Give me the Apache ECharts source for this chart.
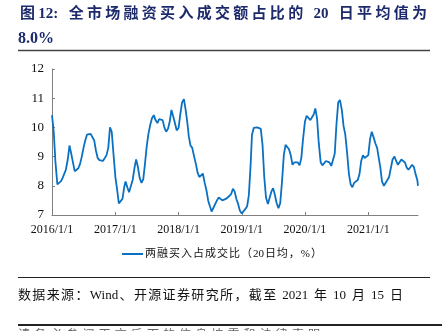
<!DOCTYPE html>
<html>
<head>
<meta charset="utf-8">
<script src="https://cdn.jsdelivr.net/npm/echarts@6/dist/echarts.min.js"></script>
<style>
  html, body { margin: 0; padding: 0; background: #fff; }
  #chart { width: 442px; height: 331px; }
</style>
</head>
<body>
<div id="chart"></div>
<script>
// 两融买入占成交比（20日均，%），samples on the 1st, 11th and 21st of each month
const v2016 = [10.42, 9.85, 8.8, 8.05, 8.1, 8.15, 8.25, 8.4, 8.55, 8.9, 9.38, 9.1,
               8.8, 8.5, 8.45, 8.6, 8.75, 9.0, 9.3, 9.55, 9.75, 9.7, 9.78, 9.75,
               9.55, 9.2, 8.95, 8.88, 8.9, 8.85, 8.95, 9.05, 9.3, 10.0, 9.85, 9.1];
const v2017 = [8.3, 7.88, 7.4, 7.36, 7.55, 7.95, 8.15, 7.95, 7.78, 7.8, 8.2, 8.6,
               8.9, 8.65, 8.28, 8.1, 8.22, 8.75, 9.35, 9.78, 10.08, 10.32, 10.42, 10.25,
               10.15, 10.28, 10.22, 10.25, 10.0, 9.85, 9.95, 10.2, 10.6, 10.55, 10.15, 9.9];
const v2018 = [9.98, 10.45, 10.85, 10.97, 10.6, 10.15, 9.7, 9.38, 9.3, 9.0, 8.75, 8.45,
               8.3, 8.36, 8.42, 8.1, 7.85, 7.5, 7.3, 7.12, 7.15, 7.38, 7.5, 7.6,
               7.57, 7.5, 7.47, 7.55, 7.6, 7.65, 7.72, 7.9, 7.8, 7.55, 7.38, 7.15];
const v2019 = [7.05, 7.05, 7.2, 7.3, 7.68, 8.7, 9.74, 9.98, 10.03, 10.0, 10.05, 9.95,
               9.4, 8.3, 7.6, 7.38, 7.4, 7.8, 7.92, 7.7, 7.42, 7.23, 7.4, 8.1,
               9.05, 9.4, 9.35, 9.25, 9.05, 8.72, 8.8, 8.75, 8.8, 8.7, 8.95, 9.6];
const v2020 = [10.2, 10.4, 10.37, 10.25, 10.35, 10.45, 10.65, 10.3, 9.45, 8.8, 8.7, 8.75,
               8.85, 8.9, 8.8, 8.68, 8.68, 9.1, 10.1, 10.85, 10.94, 10.6, 10.05, 9.75,
               9.1, 8.4, 8.05, 7.95, 8.1, 8.15, 8.2, 8.4, 8.85, 9.05, 8.95, 9.0];
const v2021 = [9.05, 9.6, 9.85, 9.65, 9.45, 9.3, 9.0, 8.65, 8.15, 8.0, 8.05, 8.2,
               8.3, 8.6, 8.9, 9.0, 8.85, 8.72, 8.75, 8.9, 8.95, 8.8, 8.62, 8.55,
               8.6, 8.72, 8.65, 8.4, 8.2];
const lastDate = '2021-10-15';
const lastValue = 8.0;

const years = [2016, 2017, 2018, 2019, 2020, 2021];
const yearValues = [v2016, v2017, v2018, v2019, v2020, v2021];
const sampleDays = [1, 11, 21];

const seriesName = '两融买入占成交比（20日均，%）';
const titleLine1 = '图12: 全市场融资买入成交额占比的 20 日平均值为';
const titleLine2 = '8.0%';
const sourceText = '数据来源：Wind、开源证券研究所，截至 2021 年 10 月 15 日';
const footerText = '请务必参阅正文后面的信息披露和法律声明';

const yTicks = { min: 7, max: 12, interval: 1 };
const xRange = { min: '2016-01-01', max: lastDate };

function pad(n) { return n < 10 ? '0' + n : '' + n; }

const points = [];
years.forEach((y, yi) => {
  yearValues[yi].forEach((v, i) => {
    const m = Math.floor(i / 3) + 1;
    const d = sampleDays[i % 3];
    points.push([y + '-' + pad(m) + '-' + pad(d), v]);
  });
});
points.push([lastDate, lastValue]);

// text laid out token by token, spread evenly across a given width
const measureCtx = document.createElement('canvas').getContext('2d');
function tokenize(str) {
  const out = [];
  let buf = '';
  for (const ch of str) {
    if (/[A-Za-z0-9.%:]/.test(ch)) { buf += ch; }
    else { if (buf) { out.push(buf); buf = ''; } out.push(ch); }
  }
  if (buf) out.push(buf);
  return out;
}
function spacedText(str, x0, x1, y, font, fill) {
  measureCtx.font = font;
  const toks = tokenize(str);
  const widths = toks.map(t => measureCtx.measureText(t).width);
  const total = widths.reduce((a, b) => a + b, 0);
  const gap = toks.length > 1 ? (x1 - x0 - total) / (toks.length - 1) : 0;
  const els = [];
  let x = x0;
  toks.forEach((t, i) => {
    if (t.trim()) {
      els.push({
        type: 'text', x: x, y: y, silent: true,
        style: { text: t, font: font, fill: fill, verticalAlign: 'middle' }
      });
    }
    x += widths[i] + gap;
  });
  return els;
}

const serifCJK = '"Liberation Serif", "Noto Sans CJK SC"';
const titleFont = 'bold 15px ' + serifCJK;
const titleColor = '#1c2a6b';
const textColor = '#111';
const lineBlue = '#0a70c2';

const graphics = []
  .concat(spacedText(titleLine1, 20, 427, 14, titleFont, titleColor))
  .concat([{ type: 'text', x: 18, y: 39, silent: true,
             style: { text: titleLine2, font: 'bold 16px ' + serifCJK, fill: titleColor, verticalAlign: 'middle' } }])
  .concat([
    { type: 'line', silent: true, shape: { x1: 18, y1: 50.5, x2: 430, y2: 50.5 }, style: { stroke: '#444', lineWidth: 1.5 } },
    { type: 'line', silent: true, shape: { x1: 122, y1: 254, x2: 143, y2: 254 }, style: { stroke: lineBlue, lineWidth: 2 } }
  ])
  .concat(spacedText(seriesName, 145, 322, 254, '11px ' + serifCJK, textColor))
  .concat([{ type: 'line', silent: true, shape: { x1: 18, y1: 277.5, x2: 430, y2: 277.5 }, style: { stroke: '#222', lineWidth: 1 } }])
  .concat(spacedText(sourceText, 18, 403, 296, '13px ' + serifCJK, textColor))
  .concat(spacedText(footerText, 18, 320, 335.5, '12px ' + serifCJK, '#666'))
  .concat([{ type: 'line', silent: true, shape: { x1: 18, y1: 325, x2: 442, y2: 325 }, style: { stroke: '#222', lineWidth: 2 } }]);

const chart = echarts.init(document.getElementById('chart'), null, { renderer: 'canvas' });
chart.setOption({
  animation: false,
  backgroundColor: '#fff',
  grid: { left: 52, right: 24, top: 69, bottom: 116 },
  xAxis: {
    type: 'time',
    min: xRange.min,
    max: xRange.max,
    splitNumber: 6,
    minInterval: 365 * 86400000,
    maxInterval: 366 * 86400000,
    axisLine: { lineStyle: { color: '#808080', width: 1 } },
    axisTick: { show: true, inside: true, length: 3, lineStyle: { color: '#808080' } },
    splitLine: { show: false },
    axisLabel: {
      color: textColor,
      fontFamily: 'Liberation Serif',
      fontSize: 12,
      margin: 9,
      showMaxLabel: false,
      formatter: function (val) {
        const d = new Date(val);
        return d.getFullYear() + '/' + (d.getMonth() + 1) + '/' + d.getDate();
      }
    }
  },
  yAxis: {
    type: 'value',
    min: yTicks.min,
    max: yTicks.max,
    interval: yTicks.interval,
    axisLine: { show: true, lineStyle: { color: '#808080', width: 1 } },
    axisTick: { show: true, inside: true, length: 3, lineStyle: { color: '#808080' } },
    splitLine: { show: false },
    axisLabel: { color: textColor, fontFamily: 'Liberation Serif', fontSize: 13, margin: 8 }
  },
  series: [{
    name: seriesName,
    type: 'line',
    data: points,
    showSymbol: false,
    smooth: false,
    lineStyle: { color: lineBlue, width: 1.8 },
    itemStyle: { color: lineBlue }
  }],
  graphic: { elements: graphics }
});
</script>
</body>
</html>
